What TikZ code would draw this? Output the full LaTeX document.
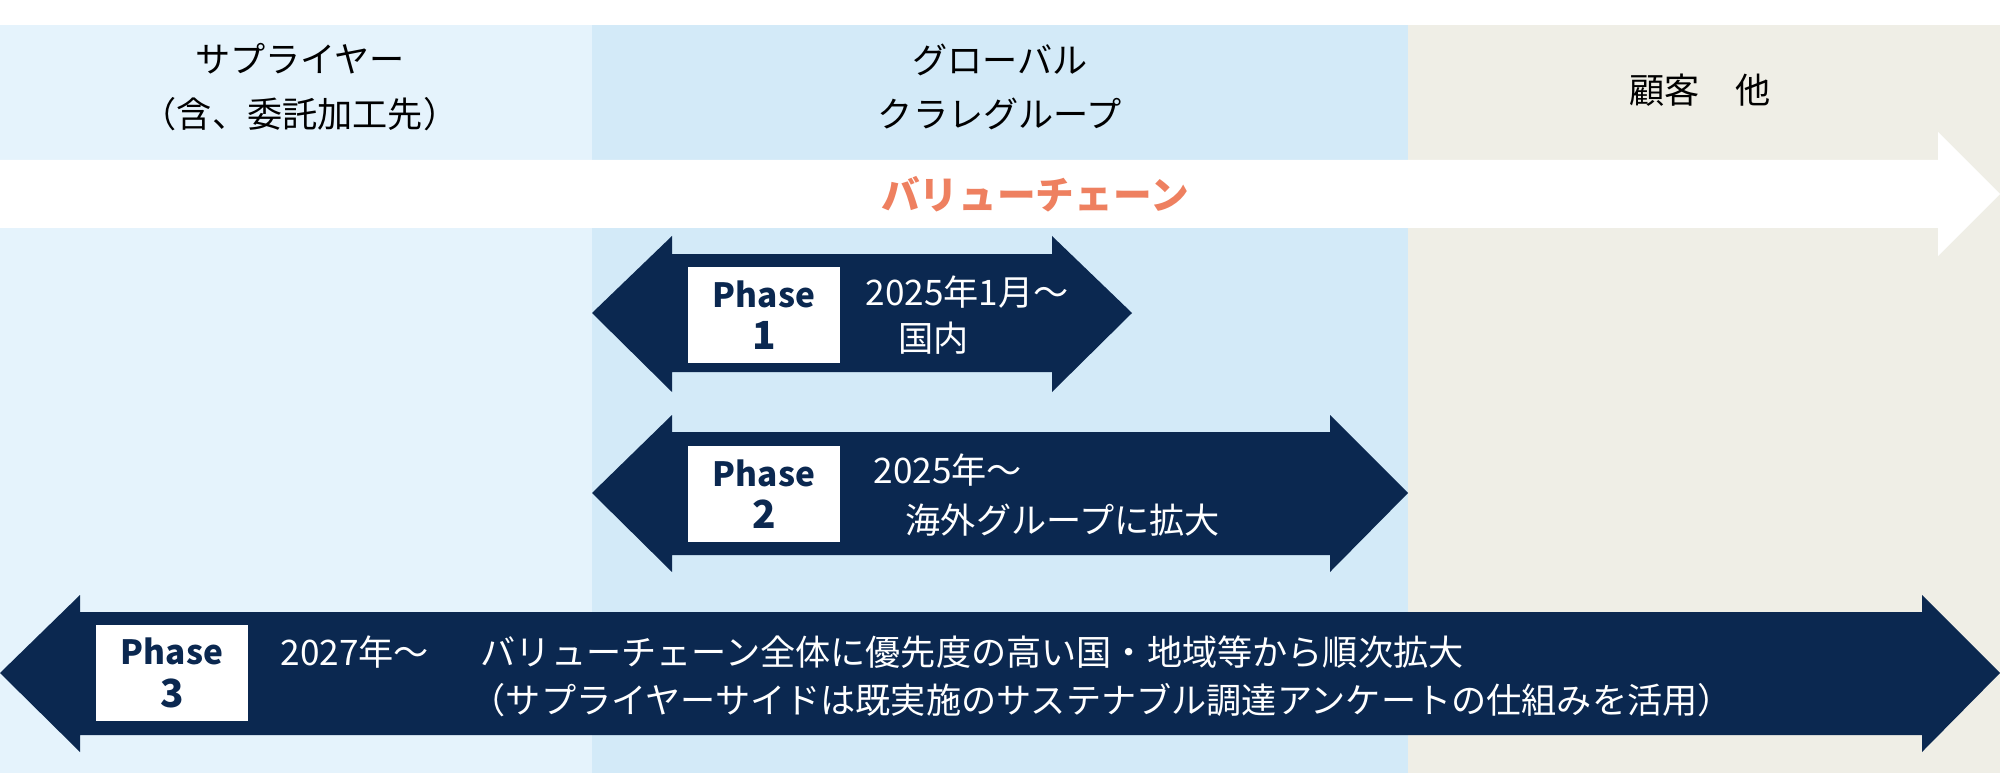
\documentclass[tikz,border=0pt]{standalone}
\usepackage{fontspec}
\setmainfont{Noto Sans CJK JP}
\definecolor{navy}{HTML}{0B2850}
\definecolor{lb}{HTML}{E5F3FC}
\definecolor{mb}{HTML}{D3EAF8}
\definecolor{bg}{HTML}{EFEEE6}
\definecolor{org}{HTML}{EE8060}
\begin{document}
\begin{tikzpicture}[x=0.01cm,y=-0.01cm,
  txt/.style={font=\fontsize{10pt}{12pt}\selectfont,inner sep=0pt},
  wtxt/.style={txt,text=white,anchor=west},
  pbox/.style={fill=white,draw=none,font=\fontsize{9.5pt}{12pt}\selectfont\bfseries,text=navy,align=center,inner sep=0pt,minimum width=1.52cm,minimum height=0.96cm},
  arr/.style={fill=navy,draw=none}]
\useasboundingbox (0,0) rectangle (2000,773);
\fill[white] (0,0) rectangle (2000,773);
\fill[lb] (0,25) rectangle (592,773);
\fill[mb] (592,25) rectangle (1408,773);
\fill[bg] (1408,25) rectangle (2000,773);
\fill[white] (0,160) -- (1938,160) -- (1938,132) -- (2000,194) -- (1938,256) -- (1938,228) -- (0,228) -- cycle;
\node[txt,text=org,font=\fontsize{11pt}{12pt}\selectfont\bfseries] (vc) at (1035,194) {バリューチェーン};
\node[txt,align=center,font=\fontsize{10pt}{15.5pt}\selectfont] (h1) at (300,87) {サプライヤー\\（含、委託加工先）};
\node[txt,align=center,font=\fontsize{10pt}{15.5pt}\selectfont] (h2) at (1000,87) {グローバル\\クラレグループ};
\node[txt] (h3) at (1700,90) {顧客　他};
% Phase 1
\fill[arr] (592,313) -- (672,236) -- (672,254) -- (1052,254) -- (1052,236) -- (1132,313) -- (1052,392) -- (1052,372) -- (672,372) -- (672,392) -- cycle;
\node[pbox] (p1) at (764,315) {Phase\\\fontsize{11pt}{12pt}\selectfont 1};
\node[wtxt] (t1a) at (865,292) {2025年1月～};
\node[wtxt] (t1b) at (898,338) {国内};
% Phase 2
\fill[arr] (592,493) -- (672,415) -- (672,432) -- (1330,432) -- (1330,415) -- (1408,493) -- (1330,572) -- (1330,555) -- (672,555) -- (672,572) -- cycle;
\node[pbox] (p2) at (764,494) {Phase\\\fontsize{11pt}{12pt}\selectfont 2};
\node[wtxt] (t2a) at (873,470) {2025年～};
\node[wtxt] (t2b) at (905,520) {海外グループに拡大};
% Phase 3
\fill[arr] (0,673) -- (80,595) -- (80,612) -- (1922,612) -- (1922,595) -- (2000,673) -- (1922,752) -- (1922,735) -- (80,735) -- (80,752) -- cycle;
\node[pbox] (p3) at (172,673) {Phase\\\fontsize{11pt}{12pt}\selectfont 3};
\node[wtxt] (t3a) at (280,652) {2027年～};
\node[wtxt] (t3b) at (480,652) {バリューチェーン全体に優先度の高い国・地域等から順次拡大};
\node[wtxt] (t3c) at (470,700) {（サプライヤーサイドは既実施のサステナブル調達アンケートの仕組みを活用）};
\end{tikzpicture}
\end{document}
